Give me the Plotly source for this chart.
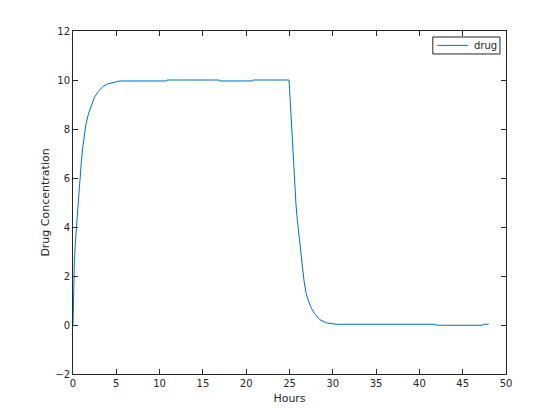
import plotly.graph_objects as go

# time (hours) and drug concentration
hours = [0, 0.16, 0.31, 0.46, 0.66, 0.81, 0.97, 1.12, 1.32, 1.5, 1.78, 2.08,
         2.47, 2.93, 3.43, 4.0, 4.78, 5.4, 10.8, 10.85, 16.9, 16.95, 20.7, 20.75,
         24.95, 25.1, 25.2, 25.3, 25.45, 25.6, 25.75, 25.9, 26.05, 26.2, 26.35,
         26.5, 26.7, 26.9, 27.2, 27.5, 27.9, 28.5, 29.2, 30.4, 41.9, 41.95,
         47.3, 47.35, 48.0]
drug = [0, 2.61, 3.57, 4.38, 5.2, 6.02, 6.7, 7.24, 7.79, 8.2, 8.61, 8.95,
        9.29, 9.53, 9.73, 9.84, 9.9, 9.96, 9.96, 10.0, 10.0, 9.96, 9.96, 10.0,
        10.0, 9.05, 8.2, 7.4, 6.4, 5.6, 4.9, 4.3, 3.75, 3.25, 2.8,
        2.35, 1.75, 1.32, 0.98, 0.7, 0.46, 0.22, 0.09, 0.03, 0.03, -0.01,
        -0.01, 0.03, 0.03]
series_name = "drug"

AX = "#262626"
LINE = "#0072BD"
FONT = "DejaVu Sans"

fig = go.Figure()
fig.add_trace(go.Scatter(
    x=hours, y=drug, mode="lines", name=series_name,
    line=dict(color=LINE, width=1), showlegend=False,
))

axis_kw = dict(
    showgrid=False, zeroline=False,
    showline=True, linecolor=AX, linewidth=1, mirror="allticks",
    ticks="inside", ticklen=5, tickcolor=AX, tickwidth=1,
    tickfont=dict(family=FONT, size=10, color=AX),
)

fig.update_xaxes(range=[0, 50], dtick=5, tick0=0,
                 title=dict(text="Hours", font=dict(family=FONT, size=11, color=AX),
                            standoff=6),
                 **axis_kw)
fig.update_yaxes(range=[-2, 12], dtick=2, tick0=0,
                 title=dict(text="Drug Concentration",
                            font=dict(family=FONT, size=11, color=AX),
                            standoff=3),
                 **axis_kw)

# MATLAB-style compact legend box
fig.add_shape(type="rect", xref="paper", yref="paper",
              x0=0.831, x1=0.986, y0=0.933, y1=0.9825,
              line=dict(color=AX, width=1), fillcolor="white")
fig.add_shape(type="line", xref="paper", yref="paper",
              x0=0.841, x1=0.912, y0=0.958, y1=0.958,
              line=dict(color=LINE, width=1))
fig.add_annotation(text=series_name, xref="paper", yref="paper",
                   x=0.922, y=0.958, xanchor="left", yanchor="middle",
                   showarrow=False, font=dict(family=FONT, size=10, color=AX))

fig.update_layout(
    width=560, height=420,
    margin=dict(l=65, r=62, t=23, b=54),
    paper_bgcolor="white", plot_bgcolor="white",
    showlegend=False,
)

fig.write_html("out.html")
